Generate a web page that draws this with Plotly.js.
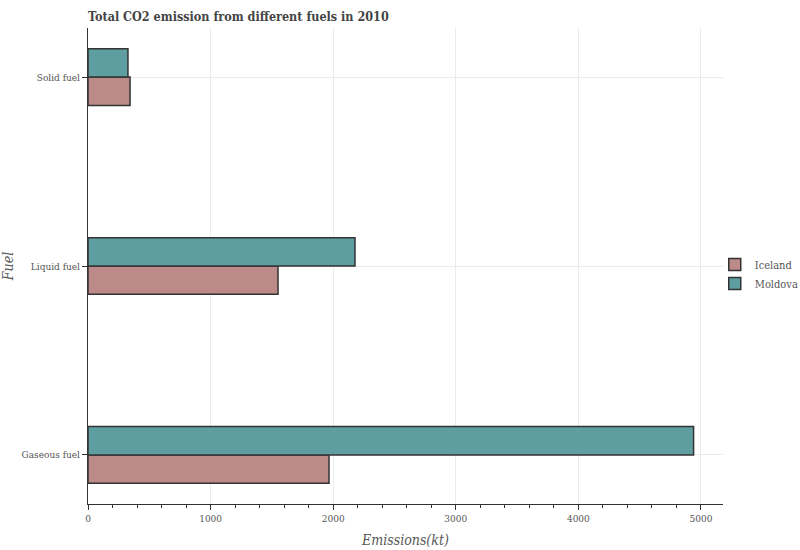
<!DOCTYPE html>
<html>
<head>
<meta charset="utf-8">
<script src="https://cdn.plot.ly/plotly-3.0.1.min.js"></script>
<style>
  html, body { margin: 0; padding: 0; background: #fff; }
  #chart { width: 800px; height: 550px; }
</style>
</head>
<body>
<div id="chart"></div>
<script>
// ===== data =====
const fuels = ["Gaseous fuel", "Liquid fuel", "Solid fuel"];
const iceland = [1966, 1550, 343];
const moldova = [4940, 2178, 326];

// ===== render =====
const FONT = "DejaVu Serif Condensed, DejaVu Serif, serif";
const outline = { color: "#333333", width: 1.5 };

const traces = [
  {
    type: "bar", orientation: "h", name: "Iceland",
    y: fuels, x: iceland,
    marker: { color: "#bc8a88", line: outline }
  },
  {
    type: "bar", orientation: "h", name: "Moldova",
    y: fuels, x: moldova,
    marker: { color: "#5f9ea0", line: outline }
  }
];

const layout = {
  width: 800, height: 550,
  barmode: "group", bargap: 0.7, bargroupgap: 0,
  paper_bgcolor: "#fff", plot_bgcolor: "#fff",
  font: { family: FONT, size: 10, color: "#444" },
  margin: { l: 88, r: 77, t: 28, b: 46, autoexpand: false },
  title: {
    text: "<b>Total CO2 emission from different fuels in 2010</b>",
    font: { family: FONT, size: 12.5, color: "#444" },
    x: 0.11, xanchor: "left", y: 0.978, yanchor: "top"
  },
  xaxis: {
    range: [0, 5180],
    dtick: 1000,
    showgrid: true, gridcolor: "#ebebeb",
    zeroline: false,
    showline: true, linecolor: "#333", linewidth: 1,
    ticks: "outside", ticklen: 5, tickcolor: "#333",
    minor: { dtick: 200, ticks: "outside", ticklen: 3, tickcolor: "#333", showgrid: false },
    tickfont: { family: FONT, size: 10, color: "#555" },
    title: { text: "<i>Emissions(kt)</i>", font: { family: FONT, size: 14, color: "#555" }, standoff: 12 }
  },
  yaxis: {
    range: [-0.26, 2.26],
    showgrid: true, gridcolor: "#ebebeb",
    showline: true, linecolor: "#333", linewidth: 1,
    ticks: "outside", ticklen: 5, tickcolor: "#333",
    tickfont: { family: FONT, size: 10, color: "#555" },
    title: { text: "<i>Fuel</i>", font: { family: FONT, size: 14, color: "#555" }, standoff: 7 }
  },
  legend: {
    x: 0.987, xanchor: "left", y: 0.483, yanchor: "middle",
    bgcolor: "rgba(0,0,0,0)",
    font: { family: FONT, size: 11, color: "#555" },
    itemwidth: 30,
    traceorder: "normal"
  },
  showlegend: true
};

Plotly.newPlot("chart", traces, layout, { displayModeBar: false });
</script>
</body>
</html>
